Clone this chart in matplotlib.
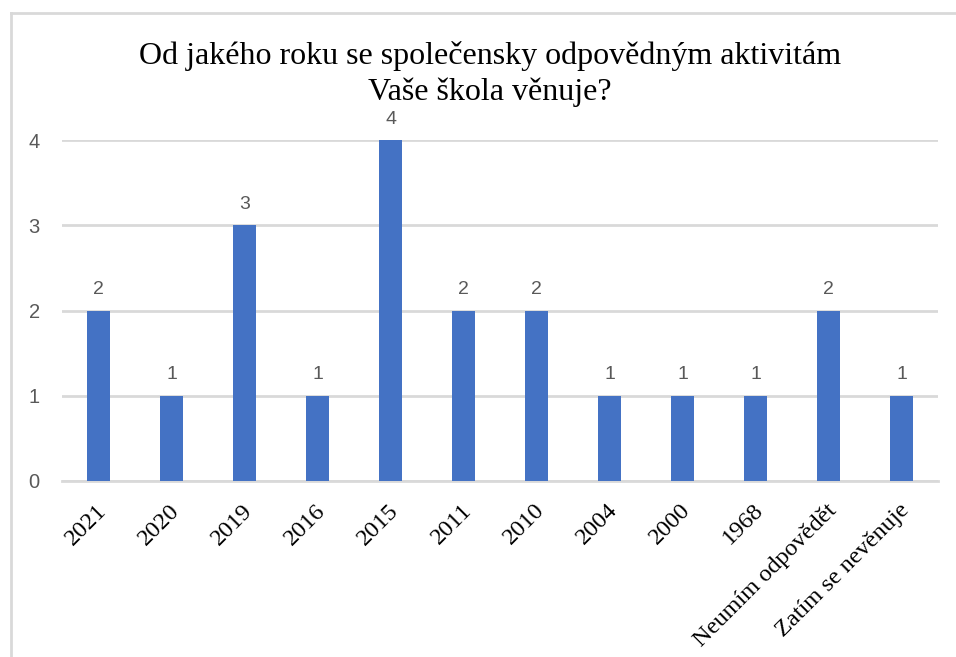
import matplotlib.pyplot as plt
import matplotlib.transforms as mtransforms
from matplotlib.lines import Line2D

# data
kategorie = ['2021', '2020', '2019', '2016', '2015', '2011', '2010', '2004', '2000', '1968',
             'Neumím odpovědět', 'Zatím se nevěnuje']
pocty = [2, 1, 3, 1, 4, 2, 2, 1, 1, 1, 2, 1]
titulek = 'Od jakého roku se společensky odpovědným aktivitám\nVaše škola věnuje?'

modra = '#4472C4'
seda_mrizka = '#D9D9D9'
seda_text = '#595959'

fig = plt.figure(figsize=(9.56, 6.57), dpi=100)
ax = fig.add_axes([62 / 956, 1 - 481 / 657, 876 / 956, 341 / 657])

x = range(len(kategorie))
ax.bar(x, pocty, width=0.31, color=modra, zorder=3)

# popisky hodnot
for i, v in enumerate(pocty):
    ax.annotate(str(v), (i, v), xytext=(0, 9), textcoords='offset points',
                ha='center', va='bottom', fontsize=14, color=seda_text,
                family='Liberation Sans')

ax.set_xlim(-0.5, len(kategorie) - 0.5)
ax.set_ylim(0, 4)
ax.set_yticks([0, 1, 2, 3, 4])
ax.yaxis.grid(True, color=seda_mrizka, linewidth=2, zorder=0)
for s in ['top', 'right', 'left']:
    ax.spines[s].set_visible(False)
ax.spines['bottom'].set_color(seda_mrizka)
ax.spines['bottom'].set_linewidth(2)
ax.tick_params(axis='y', length=0, pad=16, labelsize=14.5, labelcolor=seda_text)
for lbl in ax.get_yticklabels():
    lbl.set_family('Liberation Sans')

ax.set_xticks(list(x))
ax.set_xticklabels(kategorie, rotation=45, ha='right', va='center',
                   rotation_mode='anchor', family='Liberation Serif', fontsize=17.5)
ax.tick_params(axis='x', length=0, pad=19)
posun = mtransforms.ScaledTranslation(5 / 100, 0, fig.dpi_scale_trans)
for lbl in ax.get_xticklabels():
    lbl.set_transform(lbl.get_transform() + posun)

# titulek
fig.text(490 / 956, 1 - 74 / 657, titulek, ha='center', va='center',
         fontsize=23, family='Liberation Serif', linespacing=1.3)

# ramecek grafu (jen horni a leva hrana)
y_top = 1 - 13 / 657
x_left = 11 / 956
fig.add_artist(Line2D([x_left, 1.0], [y_top, y_top], transform=fig.transFigure,
                      color=seda_mrizka, linewidth=2))
fig.add_artist(Line2D([x_left, x_left], [0, y_top], transform=fig.transFigure,
                      color=seda_mrizka, linewidth=2))

fig.savefig('out.png', dpi=100)
